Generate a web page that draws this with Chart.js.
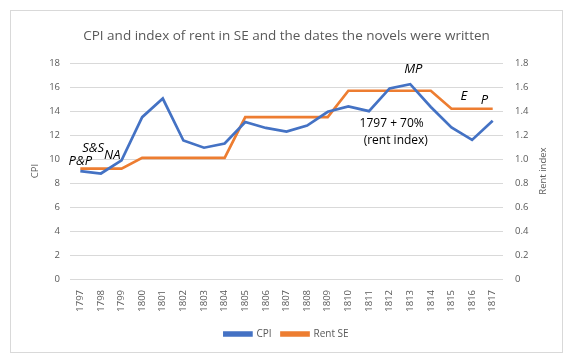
<!DOCTYPE html>
<html>
<head>
<meta charset="utf-8">
<script src="https://cdn.jsdelivr.net/npm/chart.js@4.4.0/dist/chart.umd.min.js"></script>
<style>
  html, body { margin: 0; padding: 0; background: #fff; }
  #card {
    position: absolute; left: 10px; top: 10px;
    width: 553px; height: 343px;
    box-sizing: border-box; border: 1px solid #d9d9d9;
  }
  #card canvas { display: block; }
</style>
</head>
<body>
<div id="card"><canvas id="chart" width="551" height="341"></canvas></div>
<script>
(function () {
    'use strict';

    // data
    var years = ['1797', '1798', '1799', '1800', '1801', '1802', '1803', '1804', '1805', '1806', '1807',
                 '1808', '1809', '1810', '1811', '1812', '1813', '1814', '1815', '1816', '1817'];
    var cpi = [9.0, 8.8, 9.9, 13.5, 15.05, 11.55, 10.95, 11.3, 13.1, 12.6, 12.3,
               12.8, 13.95, 14.4, 14.0, 15.9, 16.25, 14.35, 12.65, 11.6, 13.2];
    var rentSE = [0.92, 0.92, 0.92, 1.01, 1.01, 1.01, 1.01, 1.01, 1.35, 1.35, 1.35,
                  1.35, 1.35, 1.57, 1.57, 1.57, 1.57, 1.57, 1.42, 1.42, 1.42];

    // novel labels: text, category index, CPI value
    var noteText = ['P&P', 'S&S', 'NA', 'MP', 'E', 'P'];
    var noteAt = [0, 0.62, 1.55, 16.15, 18.6, 19.6];
    var noteVal = [9.8, 10.9, 10.3, 17.5, 15.2, 14.9];

    var rentNote = ['1797 + 70%', '(rent index)'];
    var rentNoteAt = [15.1, 15.3];
    var rentNoteVal = [13.0, 11.55];

    var blue = '#4472c4';
    var orange = '#ed7d31';
    var gray = '#595959';
    var font = '"Open Sans", sans-serif';

    var notesPlugin = {
        id: 'notes',
        afterDatasetsDraw: function (chart) {
            var ctx = chart.ctx;
            var xs = chart.scales.x, ys = chart.scales.y, y1 = chart.scales.y1;
            var xAt = function (i) {
                var a = Math.floor(i), f = i - a;
                var p0 = xs.getPixelForValue(a);
                var p1 = xs.getPixelForValue(a + 1);
                return p0 + (p1 - p0) * f;
            };
            ctx.save();
            ctx.fillStyle = '#000';
            ctx.textAlign = 'center';
            ctx.textBaseline = 'middle';
            ctx.font = 'italic 13px ' + font;
            for (var i = 0; i < noteText.length; i++) {
                ctx.fillText(noteText[i], xAt(noteAt[i]), ys.getPixelForValue(noteVal[i]));
            }
            ctx.font = '12px ' + font;
            for (var j = 0; j < rentNote.length; j++) {
                ctx.fillText(rentNote[j], xAt(rentNoteAt[j]), ys.getPixelForValue(rentNoteVal[j]));
            }
            // right axis title, reading upwards like the left one
            ctx.fillStyle = gray;
            ctx.font = '9.5px ' + font;
            ctx.translate(y1.right - 19, (chart.chartArea.top + chart.chartArea.bottom) / 2);
            ctx.rotate(-Math.PI / 2);
            ctx.fillText('Rent index', 0, 0);
            ctx.restore();
        }
    };

    var ctx = document.getElementById('chart').getContext('2d');
    window.myChart = new Chart(ctx, {
        type: 'line',
        data: {
            labels: years,
            datasets: [
                {
                    label: 'CPI',
                    data: cpi,
                    borderColor: blue,
                    backgroundColor: blue,
                    borderWidth: 2.7,
                    pointRadius: 0,
                    tension: 0,
                    yAxisID: 'y'
                },
                {
                    label: 'Rent SE',
                    data: rentSE,
                    borderColor: orange,
                    backgroundColor: orange,
                    borderWidth: 2.7,
                    pointRadius: 0,
                    tension: 0,
                    yAxisID: 'y1'
                }
            ]
        },
        options: {
            responsive: false,
            animation: false,
            layout: { padding: { left: 0, right: 0, top: 0, bottom: 3 } },
            plugins: {
                title: {
                    display: true,
                    text: 'CPI and index of rent in SE and the dates the novels were written',
                    color: gray,
                    font: { family: font, size: 13.5, weight: 'normal' },
                    padding: { top: 17, bottom: 19 }
                },
                legend: {
                    position: 'bottom',
                    labels: {
                        color: gray,
                        font: { family: font, size: 10 },
                        boxWidth: 27,
                        boxHeight: 3,
                        padding: 10
                    }
                },
                tooltip: { enabled: false }
            },
            scales: {
                x: {
                    offset: true,
                    grid: { display: false },
                    border: { display: false },
                    ticks: {
                        color: gray,
                        font: { family: font, size: 9.5 },
                        minRotation: 90,
                        maxRotation: 90,
                        autoSkip: false
                    },
                    afterFit: function (s) { s.height = 40; }
                },
                y: {
                    position: 'left',
                    min: 0, max: 18,
                    ticks: { stepSize: 2, color: gray, font: { family: font, size: 9.5 }, padding: 10 },
                    grid: { color: '#d9d9d9', drawTicks: false },
                    border: { display: false },
                    title: {
                        display: true, text: 'CPI', color: gray,
                        font: { family: font, size: 9.5 },
                        padding: { top: 19, bottom: 0 }
                    },
                    afterFit: function (s) { s.width = 59; }
                },
                y1: {
                    position: 'right',
                    min: 0, max: 1.8,
                    ticks: { stepSize: 0.2, color: gray, font: { family: font, size: 9.5 }, padding: 12 },
                    grid: { display: false, drawTicks: false },
                    border: { display: false },
                    afterFit: function (s) { s.width = 59; }
                }
            }
        },
        plugins: [notesPlugin]
    });
})();
</script>
</body>
</html>
